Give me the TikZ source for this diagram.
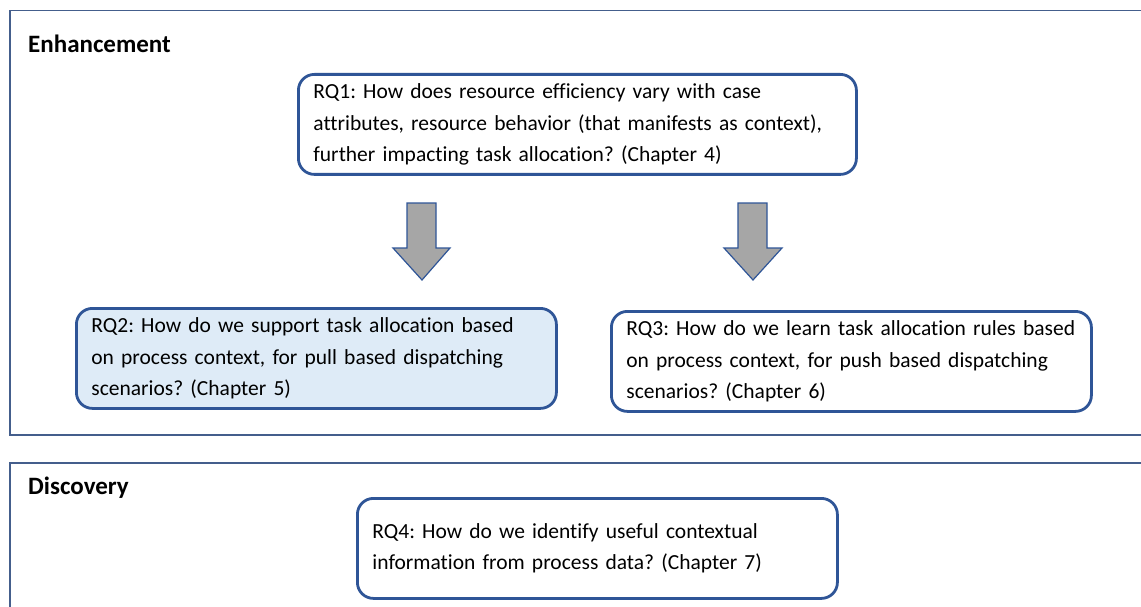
\documentclass[tikz,border=0pt]{standalone}
\usepackage{fontspec}
\setmainfont{Carlito}[Ligatures=NoCommon]
\frenchspacing
\definecolor{boxblue}{RGB}{47,85,151}
\definecolor{framecol}{RGB}{68,94,140}
\definecolor{lightfill}{RGB}{222,235,247}
\definecolor{arrowgray}{RGB}{166,166,166}
\tikzset{
  rq/.style={draw=boxblue, line width=2.8pt, rounded corners=16pt, anchor=north west,
    inner xsep=15pt, inner ysep=0pt, align=left, minimum height=100pt,
    font=\fontsize{21.5}{31.5}\selectfont},
  panel/.style={draw=framecol, line width=1.5pt, anchor=north west, inner sep=0pt},
  heading/.style={anchor=base west, inner sep=0pt, font=\fontsize{25}{28}\selectfont\bfseries},
  blockarrow/.style={fill=arrowgray, draw=boxblue, line width=1.2pt, line join=miter}
}
\begin{document}
\begin{tikzpicture}[x=1pt,y=-1pt]
\useasboundingbox (0,0) rectangle (1141,607);
\clip (0,0) rectangle (1141,607);
\fill[white] (0,0) rectangle (1141,607);

% two panels, open towards the right and bottom edges
\node[panel, minimum width=1160pt, minimum height=424pt] (enh) at (9,10) {};
\node[panel, minimum width=1160pt, minimum height=170pt] (disc) at (9,462) {};

\node[heading] (enhlabel) at (28,53) {Enhancement};
\node[heading] (disclabel) at (28,494) {Discovery};

% research questions
\node[rq, text width=528pt] (rq1) at (297,73) {%
  \mbox{RQ1: How does resource efficiency vary with case}\\
  \mbox{attributes, resource behavior (that manifests as context),}\\
  \mbox{further impacting task allocation? (Chapter 4)}};
\node[rq, text width=450pt, fill=lightfill] (rq2) at (75,307) {%
  \mbox{RQ2: How do we support task allocation based}\\
  \mbox{on process context, for pull based dispatching}\\
  \mbox{scenarios? (Chapter 5)}};
\node[rq, text width=450pt] (rq3) at (610,310) {%
  \mbox{RQ3: How do we learn task allocation rules based}\\
  \mbox{on process context, for push based dispatching}\\
  \mbox{scenarios? (Chapter 6)}};
\node[rq, text width=450pt] (rq4) at (356,497) {%
  \mbox{RQ4: How do we identify useful contextual}\\
  \mbox{information from process data? (Chapter 7)}};

% block arrows from RQ1 down to RQ2 and RQ3
\draw[blockarrow] (407,203) -- (436,203) -- (436,248) -- (450,248) -- (422,280)
  -- (393,248) -- (407,248) -- cycle;
\draw[blockarrow] (738,203) -- (767,203) -- (767,248) -- (782,248) -- (753,280)
  -- (724,248) -- (738,248) -- cycle;
\end{tikzpicture}
\end{document}
